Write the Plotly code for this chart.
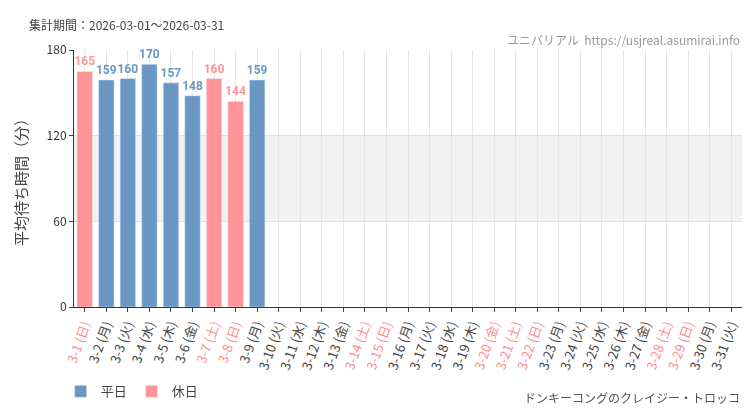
import plotly.graph_objects as go

days = list(range(1, 32))
weekdays = ["日", "月", "火", "水", "木", "金", "土"]
holidays = [1, 7, 8, 14, 15, 20, 21, 22, 28, 29]
wait_times = [165, 159, 160, 170, 157, 148, 160, 144, 159] + [None] * 22

BLUE = "#5b8cbf"
RED = "#ff8a8e"

labels = [f"3-{d} ({weekdays[(d - 1) % 7]})" for d in days]
tick_text = [
    f'<span style="color:{RED}">{lab}</span>' if d in holidays else lab
    for d, lab in zip(days, labels)
]

wk = [v if d not in holidays else None for d, v in zip(days, wait_times)]
hol = [v if d in holidays else None for d, v in zip(days, wait_times)]

fig = go.Figure()
for name, vals, col in [("平日", wk, BLUE), ("休日", hol, RED)]:
    fig.add_trace(go.Bar(
        x=days, y=vals, name=name, marker_color=col, opacity=0.9,
        text=[str(v) if v is not None else "" for v in vals],
        textposition="outside", cliponaxis=False, constraintext="none",
        textfont=dict(color=col, size=12, family="Roboto, sans-serif", weight="bold"),
        width=0.72,
    ))

fig.add_hrect(y0=60, y1=120, fillcolor="#f2f2f2", line_width=0, layer="below")

fig.update_layout(
    width=750, height=410, barmode="overlay",
    plot_bgcolor="white", paper_bgcolor="white",
    margin=dict(l=66, r=16, t=42, b=102),
    font=dict(family="Noto Sans CJK JP, sans-serif", color="#444", size=12),
    showlegend=True,
    legend=dict(orientation="h", x=-0.02, y=-0.27, xanchor="left", yanchor="top",
                xref="paper", font=dict(size=13)),
    xaxis=dict(tickmode="array", tickvals=days, ticktext=tick_text, tickangle=-70,
               range=[0.5, 31.5], showgrid=True, gridcolor="#e6e6e6",
               ticks="outside", ticklen=4, showline=True, linecolor="#333",
               tickfont=dict(size=13)),
    yaxis=dict(range=[0, 180], tickvals=[0, 60, 120, 180], showgrid=True,
               gridcolor="#e0e0e0", ticks="outside", ticklen=4, showline=True,
               linecolor="#333", title=dict(text="平均待ち時間（分）", font=dict(size=15)),
               tickfont=dict(size=12, color="#333"), zeroline=False),
)
fig.add_annotation(text="集計期間：2026-03-01～2026-03-31", xref="paper", yref="paper",
                   x=-0.07, y=1.1, xanchor="left", yanchor="middle", showarrow=False,
                   font=dict(size=12, color="#444"))
fig.add_annotation(text="ユニバリアル  https://usjreal.asumirai.info", xref="paper", yref="paper",
                   x=1.0, y=1.0, xanchor="right", yanchor="bottom", showarrow=False,
                   font=dict(size=12, color="#999"))
fig.add_annotation(text="ドンキーコングのクレイジー・トロッコ", xref="paper", yref="paper",
                   x=1.0, y=-0.31, xanchor="right", yanchor="top", showarrow=False,
                   font=dict(size=12, color="#555"))

fig.write_html("out.html")
